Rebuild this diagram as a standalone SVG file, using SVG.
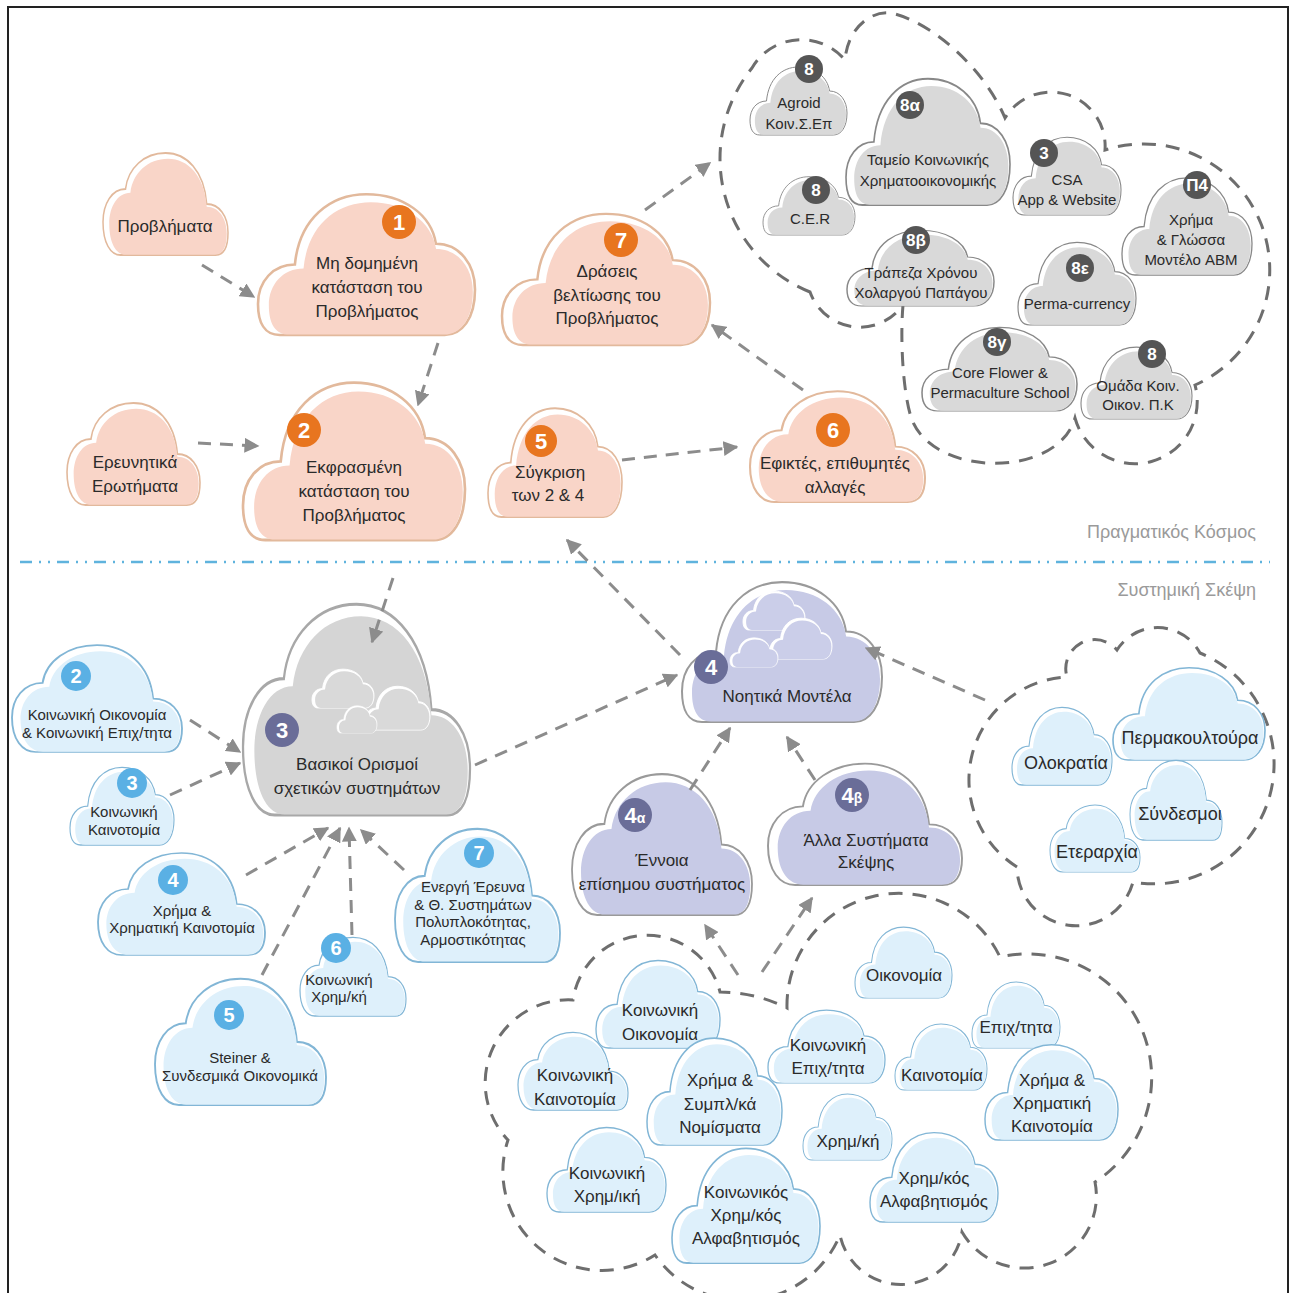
<svg xmlns="http://www.w3.org/2000/svg" xmlns:xlink="http://www.w3.org/1999/xlink" width="1290" height="1293" viewBox="0 0 1290 1293">
<style>
symbol{overflow:visible}
.ar{fill:none;stroke:#8c8c8c;stroke-width:3;stroke-dasharray:13 9;marker-end:url(#ah)}
.cl{fill:none;stroke:#6e6e6e;stroke-width:3;stroke-dasharray:14 10}
.pe{fill:#f9d5c8;stroke:#e2b99c;stroke-width:1.2}
.gr{fill:#d9d9d9;stroke:#888;stroke-width:1}
.g3{fill:#d5d5d5;stroke:#a8a8a8;stroke-width:1}
.lv{fill:#c7cae6;stroke:#9a9a9a;stroke-width:1}
.bl{fill:#def0fb;stroke:#82b6d6;stroke-width:1.1}
.dg{fill:#d9d9d9;stroke:#fff;stroke-width:1.5}
.dl{fill:#cbcee9;stroke:#fff;stroke-width:1.5}
text{font-family:"Liberation Sans",Arial,sans-serif;fill:#2a2a2a;text-anchor:middle}
.t18{font-size:18px}.t17{font-size:17px}.t15{font-size:15px}
.lab{font-size:18px;fill:#9a9a9a;text-anchor:end}
.bo{fill:#e8751f}.bd{fill:#555}.bp{fill:#6a6d98}.bb{fill:#5ab0e4}
.bt{fill:#fff;font-weight:bold;font-size:22px}
.bs{fill:#fff;font-weight:bold;font-size:17px}
.bm{fill:#fff;font-weight:bold;font-size:20px}
</style>
<defs>
<path id="pA" d="M10,70 C3,70 0,64 0,55 C0,44 7,36 17,36 C19,14 33,2 50,2 C67,2 80,12 82,26 C93,26 100,36 100,48 C100,62 94,70 86,70 Z"/>
<path id="pB" d="M90,70 C97,70 100,64 100,55 C100,44 93,36 83,36 C81,14 67,2 50,2 C33,2 20,12 18,26 C7,26 0,36 0,48 C0,62 6,70 14,70 Z"/>
<symbol id="cA" viewBox="0 0 100 70" preserveAspectRatio="none">
<use href="#pA" fill="#fff" vector-effect="non-scaling-stroke"/>
<use href="#pA" transform="translate(5,4) scale(0.94)" stroke="none"/>
</symbol>
<symbol id="cB" viewBox="0 0 100 70" preserveAspectRatio="none">
<use href="#pB" fill="#fff" vector-effect="non-scaling-stroke"/>
<use href="#pB" transform="translate(5,4) scale(0.94)" stroke="none"/>
</symbol>
<marker id="ah" viewBox="0 0 10 10" refX="9" refY="5" markerWidth="15" markerHeight="15" markerUnits="userSpaceOnUse" orient="auto"><path d="M0,0 L10,5 L0,10 Z" fill="#8c8c8c"/></marker>
</defs>
<rect width="1290" height="1293" fill="#fff"/>
<path d="M8,1293 V7 H1288 V1293" fill="none" stroke="#222" stroke-width="2"/>
<line x1="20" y1="562" x2="1270" y2="562" stroke="#5fb3dd" stroke-width="2.5" stroke-dasharray="12 7 2 7 2 7"/>
<text class="lab" x="1256" y="538">Πραγματικός Κόσμος</text>
<text class="lab" x="1256" y="596">Συστημική Σκέψη</text>

<g id="clusters">
<path id="cluster-top" class="cl" d="M810,292 A144,144 0 0 1 752,68 A57,57 0 0 1 845,60 C848,25 875,8 895,14 C935,25 985,70 1005,118 A54,54 0 0 1 1105,150 A126,126 0 0 1 1195,385 A62,62 0 0 1 1075,418 C1058,478 935,478 912,420 C903,395 900,340 903,305 A53,53 0 0 1 810,292 Z"/>
<path id="cluster-right" class="cl" d="M1017,867 A103,103 0 0 1 1067,677 A29,29 0 0 1 1117,650 A48,48 0 0 1 1200,653 A120,120 0 0 1 1133,882 A59,59 0 0 1 1017,867 Z"/>
<path id="cluster-bottom" class="cl" d="M787,1008 A112,112 0 0 1 1000,957 A124,124 0 0 1 1095,1182 A72,72 0 0 1 962,1232 A62,62 0 0 1 840,1235 A106,106 0 0 1 655,1255 A99,99 0 0 1 508,1140 A83,83 0 0 1 573,1000 A75,75 0 0 1 720,992 A150,150 0 0 1 787,1008 Z"/>
</g>

<g id="n-problems"><use href="#cB" class="pe" x="103" y="150" width="125" height="105"/><text class="t17" x="165" y="232">Προβλήματα</text></g>
<g id="n1"><use href="#cA" class="pe" x="258" y="190" width="217" height="145"/><circle class="bo" cx="399" cy="222" r="17"/><text class="bt" x="399" y="230">1</text><text class="t17" x="367" y="269">Μη δομημένη</text><text class="t17" x="367" y="293">κατάσταση του</text><text class="t17" x="367" y="317">Προβλήματος</text></g>
<g id="n2"><use href="#cA" class="pe" x="243" y="378" width="222" height="162"/><circle class="bo" cx="304" cy="430" r="17"/><text class="bt" x="304" y="438">2</text><text class="t17" x="354" y="473">Εκφρασμένη</text><text class="t17" x="354" y="497">κατάσταση του</text><text class="t17" x="354" y="521">Προβλήματος</text></g>
<g id="n-questions"><use href="#cB" class="pe" x="67" y="400" width="133" height="105"/><text class="t17" x="135" y="468">Ερευνητικά</text><text class="t17" x="135" y="492">Ερωτήματα</text></g>
<g id="n5"><use href="#cA" class="pe" x="488" y="405" width="134" height="112"/><circle class="bo" cx="541" cy="441" r="16"/><text class="bt" x="541" y="449">5</text><text class="t17" x="550" y="478">Σύγκριση</text><text class="t17" x="548" y="501">των 2 &amp; 4</text></g>
<g id="n6"><use href="#cB" class="pe" x="750" y="388" width="175" height="114"/><circle class="bo" cx="833" cy="430" r="17"/><text class="bt" x="833" y="438">6</text><text class="t17" x="835" y="469">Εφικτές, επιθυμητές</text><text class="t17" x="835" y="493">αλλαγές</text></g>
<g id="n7"><use href="#cA" class="pe" x="502" y="210" width="208" height="135"/><circle class="bo" cx="621" cy="240" r="17"/><text class="bt" x="621" y="248">7</text><text class="t17" x="607" y="277">Δράσεις</text><text class="t17" x="607" y="301">βελτίωσης του</text><text class="t17" x="607" y="324">Προβλήματος</text></g>

<g id="g-agroid"><use href="#cA" class="gr" x="750" y="65" width="97" height="70"/><circle class="bd" cx="809" cy="69" r="14"/><text class="bs" x="809" y="75">8</text><text class="t15" x="799" y="108">Agroid</text><text class="t15" x="799" y="129">Κοιν.Σ.Επ</text></g>
<g id="g-8a"><use href="#cA" class="gr" x="846" y="75" width="164" height="130"/><circle class="bd" cx="910" cy="105" r="14"/><text class="bs" x="910" y="111">8α</text><text class="t15" x="928" y="165">Ταμείο Κοινωνικής</text><text class="t15" x="928" y="186">Χρηματοοικονομικής</text></g>
<g id="g-cer"><use href="#cA" class="gr" x="763" y="175" width="92" height="60"/><circle class="bd" cx="816" cy="190" r="14"/><text class="bs" x="816" y="196">8</text><text class="t15" x="810" y="224">C.E.R</text></g>
<g id="g-csa"><use href="#cA" class="gr" x="1013" y="135" width="108" height="80"/><circle class="bd" cx="1044" cy="153" r="14"/><text class="bs" x="1044" y="159">3</text><text class="t15" x="1067" y="185">CSA</text><text class="t15" x="1067" y="205">App &amp; Website</text></g>
<g id="g-p4"><use href="#cA" class="gr" x="1122" y="175" width="130" height="100"/><circle class="bd" cx="1197" cy="185" r="14"/><text class="bs" x="1197" y="191">Π4</text><text class="t15" x="1191" y="225">Χρήμα</text><text class="t15" x="1191" y="245">&amp; Γλώσσα</text><text class="t15" x="1191" y="265">Μοντέλο ABM</text></g>
<g id="g-8b"><use href="#cA" class="gr" x="847" y="228" width="147" height="78"/><circle class="bd" cx="916" cy="240" r="14"/><text class="bs" x="916" y="246">8β</text><text class="t15" x="921" y="278">Τράπεζα Χρόνου</text><text class="t15" x="921" y="298">Χολαργού Παπάγου</text></g>
<g id="g-8e"><use href="#cA" class="gr" x="1018" y="240" width="118" height="85"/><circle class="bd" cx="1080" cy="268" r="14"/><text class="bs" x="1080" y="274">8ε</text><text class="t15" x="1077" y="309">Perma-currency</text></g>
<g id="g-8g"><use href="#cA" class="gr" x="922" y="325" width="155" height="86"/><circle class="bd" cx="997" cy="342" r="14"/><text class="bs" x="997" y="348">8γ</text><text class="t15" x="1000" y="378">Core Flower &amp;</text><text class="t15" x="1000" y="398">Permaculture School</text></g>
<g id="g-8o"><use href="#cA" class="gr" x="1081" y="345" width="111" height="74"/><circle class="bd" cx="1152" cy="354" r="14"/><text class="bs" x="1152" y="360">8</text><text class="t15" x="1138" y="391">Ομάδα Κοιν.</text><text class="t15" x="1138" y="410">Οικον. Π.Κ</text></g>

<g id="s3"><use href="#cB" class="g3" x="243" y="598" width="227" height="217"/><use href="#cA" class="dg" x="312" y="668" width="62" height="40"/><use href="#cA" class="dg" x="365" y="685" width="65" height="45"/><use href="#cA" class="dg" x="337" y="705" width="40" height="28"/><circle class="bp" cx="282" cy="730" r="17"/><text class="bt" x="282" y="738">3</text><text class="t17" x="357" y="770">Βασικοί Ορισμοί</text><text class="t17" x="357" y="794">σχετικών συστημάτων</text></g>
<g id="s4"><use href="#cA" class="lv" x="682" y="578" width="200" height="144"/><use href="#cA" class="dl" x="743" y="590" width="62" height="40"/><use href="#cA" class="dl" x="770" y="617" width="62" height="42"/><use href="#cA" class="dl" x="730" y="637" width="48" height="30"/><circle class="bp" cx="711" cy="667" r="17"/><text class="bt" x="711" y="675">4</text><text class="t17" x="787" y="702">Νοητικά Μοντέλα</text></g>
<g id="s4a"><use href="#cB" class="lv" x="572" y="770" width="180" height="145"/><circle class="bp" cx="635" cy="815" r="17"/><text class="bt" x="635" y="823">4<tspan font-size="14">α</tspan></text><text class="t17" x="662" y="866">Έννοια</text><text class="t17" x="662" y="890">επίσημου συστήματος</text></g>
<g id="s4b"><use href="#cB" class="lv" x="768" y="760" width="194" height="125"/><circle class="bp" cx="852" cy="795" r="17"/><text class="bt" x="852" y="803">4<tspan font-size="14">β</tspan></text><text class="t17" x="866" y="846">Άλλα Συστήματα</text><text class="t17" x="866" y="868">Σκέψης</text></g>

<g id="b2"><use href="#cB" class="bl" x="12" y="642" width="170" height="110"/><circle class="bb" cx="76" cy="676" r="15"/><text class="bm" x="76" y="683">2</text><text class="t15" x="97" y="720">Κοινωνική Οικονομία</text><text class="t15" x="97" y="738">&amp; Κοινωνική Επιχ/τητα</text></g>
<g id="b3"><use href="#cA" class="bl" x="70" y="765" width="104" height="80"/><circle class="bb" cx="132" cy="783" r="15"/><text class="bm" x="132" y="790">3</text><text class="t15" x="124" y="817">Κοινωνική</text><text class="t15" x="124" y="835">Καινοτομία</text></g>
<g id="b4"><use href="#cB" class="bl" x="98" y="850" width="167" height="105"/><circle class="bb" cx="173" cy="880" r="15"/><text class="bm" x="173" y="887">4</text><text class="t15" x="182" y="916">Χρήμα &amp;</text><text class="t15" x="182" y="933">Χρηματική Καινοτομία</text></g>
<g id="b5"><use href="#cB" class="bl" x="155" y="975" width="171" height="130"/><circle class="bb" cx="229" cy="1015" r="15"/><text class="bm" x="229" y="1022">5</text><text class="t15" x="240" y="1063">Steiner &amp;</text><text class="t15" x="240" y="1081">Συνδεσμικά Οικονομικά</text></g>
<g id="b6"><use href="#cB" class="bl" x="300" y="935" width="106" height="81"/><circle class="bb" cx="336" cy="948" r="15"/><text class="bm" x="336" y="955">6</text><text class="t15" x="339" y="985">Κοινωνική</text><text class="t15" x="339" y="1002">Χρημ/κή</text></g>
<g id="b7"><use href="#cB" class="bl" x="395" y="825" width="165" height="137"/><circle class="bb" cx="479" cy="853" r="15"/><text class="bm" x="479" y="860">7</text><text class="t15" x="473" y="892">Ενεργή Έρευνα</text><text class="t15" x="473" y="910">&amp; Θ. Συστημάτων</text><text class="t15" x="473" y="927">Πολυπλοκότητας,</text><text class="t15" x="473" y="945">Αρμοστικότητας</text></g>

<g id="r-olo"><use href="#cA" class="bl" x="1012" y="705" width="100" height="80"/><text class="t18" x="1066" y="769">Ολοκρατία</text></g>
<g id="r-perm"><use href="#cA" class="bl" x="1113" y="665" width="152" height="95"/><text class="t18" x="1190" y="744">Περμακουλτούρα</text></g>
<g id="r-synd"><use href="#cB" class="bl" x="1130" y="758" width="92" height="82"/><text class="t18" x="1180" y="820">Σύνδεσμοι</text></g>
<g id="r-eter"><use href="#cB" class="bl" x="1050" y="803" width="90" height="69"/><text class="t18" x="1097" y="858">Ετεραρχία</text></g>

<g id="k-oik"><use href="#cA" class="bl" x="596" y="958" width="124" height="90"/><text class="t17" x="660" y="1016">Κοινωνική</text><text class="t17" x="660" y="1040">Οικονομία</text></g>
<g id="k-kain"><use href="#cB" class="bl" x="518" y="1030" width="110" height="80"/><text class="t17" x="575" y="1081">Κοινωνική</text><text class="t17" x="575" y="1105">Καινοτομία</text></g>
<g id="k-xrima"><use href="#cA" class="bl" x="647" y="1035" width="135" height="110"/><text class="t17" x="720" y="1086">Χρήμα &amp;</text><text class="t17" x="720" y="1110">Συμπλ/κά</text><text class="t17" x="720" y="1133">Νομίσματα</text></g>
<g id="k-xrimik"><use href="#cA" class="bl" x="547" y="1125" width="119" height="87"/><text class="t17" x="607" y="1179">Κοινωνική</text><text class="t17" x="607" y="1202">Χρημ/ική</text></g>
<g id="k-alfa"><use href="#cA" class="bl" x="672" y="1145" width="148" height="118"/><text class="t17" x="746" y="1198">Κοινωνικός</text><text class="t17" x="746" y="1221">Χρημ/κός</text><text class="t17" x="746" y="1244">Αλφαβητισμός</text></g>
<g id="o-oik"><use href="#cA" class="bl" x="855" y="925" width="97" height="73"/><text class="t17" x="904" y="981">Οικονομία</text></g>
<g id="o-epix"><use href="#cA" class="bl" x="768" y="1008" width="117" height="75"/><text class="t17" x="828" y="1051">Κοινωνική</text><text class="t17" x="828" y="1074">Επιχ/τητα</text></g>
<g id="o-kain"><use href="#cA" class="bl" x="895" y="1022" width="92" height="68"/><text class="t17" x="942" y="1081">Καινοτομία</text></g>
<g id="o-epix2"><use href="#cA" class="bl" x="972" y="980" width="88" height="68"/><text class="t17" x="1016" y="1033">Επιχ/τητα</text></g>
<g id="o-xrima"><use href="#cA" class="bl" x="985" y="1042" width="133" height="98"/><text class="t17" x="1052" y="1086">Χρήμα &amp;</text><text class="t17" x="1052" y="1109">Χρηματική</text><text class="t17" x="1052" y="1132">Καινοτομία</text></g>
<g id="o-xrimk"><use href="#cA" class="bl" x="803" y="1092" width="89" height="68"/><text class="t17" x="848" y="1147">Χρημ/κή</text></g>
<g id="o-alfa"><use href="#cA" class="bl" x="870" y="1130" width="128" height="92"/><text class="t17" x="934" y="1184">Χρημ/κός</text><text class="t17" x="934" y="1207">Αλφαβητισμός</text></g>

<g id="connectors">
<line class="ar" x1="202" y1="265" x2="254" y2="297"/>
<line class="ar" x1="438" y1="343" x2="418" y2="405"/>
<line class="ar" x1="198" y1="443" x2="258" y2="446"/>
<line class="ar" x1="622" y1="460" x2="737" y2="447"/>
<line class="ar" x1="803" y1="390" x2="712" y2="325"/>
<line class="ar" x1="645" y1="210" x2="710" y2="163"/>
<line class="ar" x1="680" y1="655" x2="567" y2="540"/>
<line class="ar" x1="393" y1="578" x2="372" y2="642"/>
<line class="ar" x1="475" y1="765" x2="677" y2="675"/>
<line class="ar" x1="190" y1="720" x2="240" y2="752"/>
<line class="ar" x1="170" y1="795" x2="240" y2="763"/>
<line class="ar" x1="246" y1="875" x2="328" y2="828"/>
<line class="ar" x1="262" y1="975" x2="340" y2="828"/>
<line class="ar" x1="352" y1="935" x2="349" y2="828"/>
<line class="ar" x1="404" y1="870" x2="361" y2="830"/>
<line class="ar" x1="690" y1="790" x2="730" y2="728"/>
<line class="ar" x1="815" y1="780" x2="787" y2="737"/>
<line class="ar" x1="985" y1="700" x2="866" y2="648"/>
<line class="ar" x1="738" y1="975" x2="705" y2="925"/>
<line class="ar" x1="762" y1="972" x2="812" y2="898"/>
</g>
</svg>
